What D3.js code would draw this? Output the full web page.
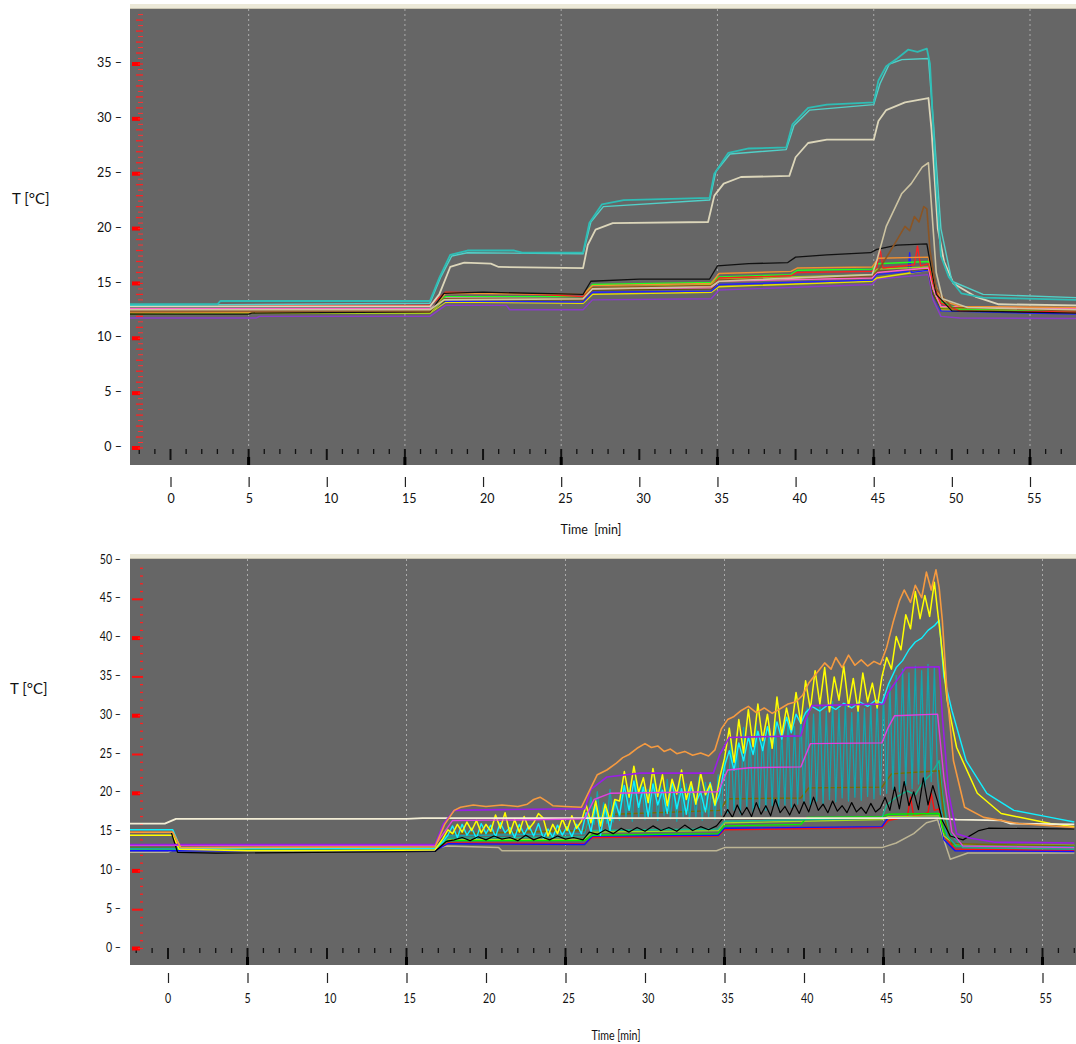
<!DOCTYPE html>
<html>
<head>
<meta charset="utf-8">
<script src="https://cdn.jsdelivr.net/npm/d3@7"></script>
<style>
  body { margin: 0; background: #fff; }
  text { font-family: Lato, "Open Sans", sans-serif; fill: #111; }
</style>
</head>
<body>
<svg id="fig" width="1076" height="1044"></svg>
<script>
// ---- tick values ----
const minuteTicks = [0, 5, 10, 15, 20, 25, 30, 35, 40, 45, 50, 55];
const topTempTicks = [0, 5, 10, 15, 20, 25, 30, 35];
const botTempTicks = [0, 5, 10, 15, 20, 25, 30, 35, 40, 45, 50];

// ---- top chart series: [time min, T degC] ----
const topCyanA = [[-2.6,13.1],[3,13.1],[3.2,13.4],[16.6,13.4],[17.2,15.5],[17.9,17.6],[19,18.0],[22,18.0],[22.5,17.8],[26.4,17.8],[26.8,20.5],[27.6,22.2],[29,22.6],[34.5,22.8],[34.8,25],[35.7,26.9],[37,27.3],[39.4,27.4],[39.8,29.5],[40.8,31.0],[42,31.3],[45.0,31.5],[45.3,33.5],[45.8,34.8],[46.5,35.5],[47.2,36.3],[47.8,36.1],[48.4,36.4],[48.6,35],[49.0,24],[49.3,17.5],[49.8,15.6],[50.6,14.1],[52,13.7],[58,13.5]];
const topCyanB = [[-2.6,13.0],[16.6,13.2],[17.3,15.6],[18.0,17.5],[19,17.8],[26.4,17.7],[26.9,20.6],[27.7,22.0],[34.5,22.6],[34.9,25.2],[35.8,26.8],[39.4,27.2],[39.9,29.4],[40.9,30.8],[45.0,31.3],[45.4,33.2],[46.0,35.0],[46.8,35.4],[48.5,35.5],[48.8,30],[49.3,20],[50,15.2],[52,14.0],[58,13.7]];
const topBeige = [[-2.6,12.9],[16.6,12.9],[17.2,14],[17.9,16.5],[18.8,16.9],[20.5,16.8],[21,16.5],[26.4,16.4],[26.7,18.5],[27.2,19.9],[28.3,20.5],[34.4,20.6],[34.8,23],[35.4,24.1],[36.5,24.7],[39.6,24.8],[40,26.5],[40.8,27.8],[42,28.1],[45.0,28.1],[45.3,29.8],[45.8,30.8],[47,31.5],[48.5,31.9],[48.7,29],[49.1,20],[49.5,17],[50.1,15],[51.5,13.8],[53,13.1],[58,13.0]];
const topTan = [[-2.6,12.6],[16.6,12.6],[17.5,13.5],[26.4,13.6],[27,14.5],[34.6,14.7],[35.1,15.2],[44.9,15.8],[45.2,17.1],[45.8,20.2],[46.8,23.2],[47.4,24.1],[48.1,25.6],[48.5,26.0],[48.7,22],[49.0,16],[49.4,13.6],[51,12.8],[58,12.6]];
const topBrown = [[-2.6,12.5],[16.6,12.5],[17.5,13.6],[26.4,13.6],[27,14.6],[34.6,14.8],[35.1,15.3],[44.9,15.7],[45.3,16.2],[46,17.8],[46.5,19],[47,20.2],[47.3,19.8],[47.6,21.1],[47.9,20.6],[48.2,22],[48.4,21.8],[48.6,18],[49,14.5],[50,12.8],[58,12.5]];
const topBlack = [[-2.6,12.2],[5,12.2],[5.2,12.3],[16.6,12.4],[17.5,14.1],[20,14.2],[26.4,14.0],[26.9,15.2],[30,15.4],[34.5,15.4],[35,16.6],[37,16.8],[39.5,16.9],[40,17.4],[42,17.6],[44.8,17.8],[45.2,18.1],[46.5,18.5],[48.4,18.6],[48.6,17],[49,14],[50,12.5],[58,12.3]];
const topOrange = [[-2.6,12.4],[16.6,12.4],[17.6,14.1],[26.4,14.0],[27.0,14.8],[34.6,15.0],[35.1,15.9],[39.7,16.1],[40.1,16.4],[44.9,16.5],[45.3,17.3],[48.5,17.4],[48.8,15.5],[49.3,13.5],[50.5,12.9],[58,12.8]];
const topRed = [[-2.6,13.0],[16.6,13.0],[17.6,14.2],[22,14.1],[26.4,13.8],[27.0,14.6],[34.6,14.7],[35.1,15.5],[39.7,15.7],[40.1,16.0],[44.9,16.1],[45.2,16.5],[45.4,18.2],[45.6,16.4],[47.6,16.7],[47.8,18.4],[48.0,16.6],[48.5,16.8],[48.8,15],[49.3,13.2],[50.5,12.5],[58,12.4]];
const topGreen = [[-2.6,12.6],[16.6,12.6],[17.6,13.8],[26.4,13.8],[27.0,14.9],[34.6,15.1],[35.1,15.6],[39.7,15.8],[40.1,16.2],[44.9,16.3],[45.2,16.8],[48.5,17.0],[48.8,15],[49.3,13.3],[50.5,12.6],[58,12.5]];
const topLime = [[-2.6,12.2],[5,12.3],[16.6,12.3],[17.6,13.6],[26.4,13.6],[27.0,14.6],[34.6,14.9],[35.1,15.4],[44.9,15.8],[45.2,16.3],[48.5,16.5],[48.8,14.5],[49.3,12.8],[58,12.4]];
const topYellow = [[-2.6,12.3],[16.6,12.3],[17.6,13.3],[26.4,13.2],[27.0,14.0],[34.6,14.2],[35.1,14.7],[44.9,15.2],[45.2,15.5],[48.5,16.2],[48.8,14.5],[49.3,12.6],[58,12.3]];
const topBlue = [[-2.6,12.4],[16.6,12.4],[17.6,13.4],[26.4,13.3],[27.0,14.2],[34.6,14.3],[35.1,14.9],[44.9,15.3],[45.2,15.8],[47.2,16.1],[47.3,17.8],[47.4,16.0],[48.5,16.2],[48.8,14],[49.3,12.5],[58,12.2]];
const topPink = [[-2.6,12.7],[16.6,12.7],[17.6,13.7],[26.4,13.6],[27.0,14.5],[34.6,14.6],[35.1,15.2],[44.9,15.5],[45.2,16.0],[48.5,16.4],[48.8,14.5],[49.3,12.9],[58,12.7]];
const topPurple = [[-2.6,11.85],[5.5,11.85],[5.7,12.0],[16.6,12.0],[17.6,13.0],[21.5,13.0],[21.7,12.6],[26.4,12.6],[27.0,13.5],[34.6,13.6],[35.1,14.4],[44.9,14.9],[45.2,15.4],[48.5,15.8],[48.8,13.5],[49.3,12.0],[50.5,11.85],[58,11.8]];
const topOlive = [[-2.6,12.3],[16.6,12.4],[17.6,13.5],[26.4,13.5],[27.0,14.4],[34.6,14.5],[35.1,15.2],[44.9,15.6],[45.2,16.1],[48.5,16.3],[48.8,14],[49.3,12.7],[58,12.5]];

// ---- bottom chart series ----
const botCream = [[-2.4,16.1],[-0.2,16.1],[0.5,16.7],[15,16.7],[16,16.8],[48.4,16.8],[49.6,16.6],[52.4,16.5],[53,16.1],[57,16.0]];
const botGrayBeige = [[-2.4,12.4],[0,12.4],[0.5,12.9],[16.8,12.9],[17.5,13.2],[20.8,13.0],[21,12.6],[34.5,12.6],[35,13],[44.9,13],[45.8,13.6],[46.9,14.8],[47.7,16.2],[48.4,16.6],[48.8,14],[49.2,11.5],[49.6,11.8],[50.3,12.3],[57,12.3]];
const botTeal = [[-2.4,12.9],[16.8,13.0],[17.5,14.5],[26.2,14.8],[26.4,16.2],[26.6,19.5],[26.8,16.0],[27.0,20.2],[27.2,16.4],[27.4,18.8],[27.6,16.1],[27.8,20.5],[28.0,16.3],[28.2,19.0],[28.4,16.5],[28.6,21.5],[28.8,16.8],[29.0,20.8],[29.2,16.4],[29.4,22.0],[29.6,17.0],[29.8,21.2],[30.0,16.6],[30.2,20.5],[30.4,16.9],[30.6,22.2],[30.8,16.5],[31.0,21.0],[31.2,17.1],[31.4,21.8],[31.6,16.7],[31.8,20.6],[32.0,16.4],[32.2,22.0],[32.4,17.0],[32.6,21.2],[32.8,16.6],[33.0,20.8],[33.2,16.9],[33.4,22.1],[33.6,16.5],[33.8,21.4],[34.0,17.0],[34.2,20.9],[34.4,16.6],[34.6,22.4],[34.8,17.2],[35.0,25.0],[35.2,17.5],[35.4,27.0],[35.6,17.8],[35.8,26.2],[36.0,17.4],[36.2,28.5],[36.4,18.0],[36.6,27.2],[36.8,17.6],[37.0,29.0],[37.2,18.2],[37.4,27.8],[37.6,17.8],[37.8,28.8],[38.0,18.4],[38.2,29.5],[38.4,18.0],[38.6,28.0],[38.8,18.5],[39.0,29.8],[39.2,18.2],[39.4,28.6],[39.6,18.6],[39.8,30.0],[40.0,18.8],[40.2,31.0],[40.4,18.5],[40.6,30.2],[40.8,19.0],[41.0,31.5],[41.2,18.7],[41.4,30.6],[41.6,19.2],[41.8,31.8],[42.0,18.9],[42.2,30.8],[42.4,19.4],[42.6,31.6],[42.8,19.0],[43.0,30.4],[43.2,19.5],[43.4,31.9],[43.6,19.1],[43.8,30.9],[44.0,19.6],[44.2,31.4],[44.4,19.3],[44.6,32.0],[44.8,19.8],[45.0,32.5],[45.2,20.0],[45.4,34.0],[45.6,20.5],[45.8,35.2],[46.0,20.2],[46.2,36.0],[46.4,21.0],[46.6,35.5],[46.8,20.6],[47.0,36.4],[47.2,21.2],[47.4,35.8],[47.6,20.8],[47.8,36.6],[48.0,21.5],[48.2,36.2],[48.4,22.0],[48.6,18],[49.0,14.5],[49.6,13.2],[57,13.1]];
const botCyan = [[-2.4,15.3],[0.3,15.3],[0.8,12.9],[16.8,12.9],[17.3,13.8],[17.6,14.6],[17.9,15.8],[18.2,14.3],[18.5,16.0],[18.8,14.6],[19.1,15.5],[19.4,14.2],[19.7,16.1],[20.0,14.8],[20.3,15.9],[20.6,14.4],[20.9,16.2],[21.2,14.9],[21.5,15.6],[21.8,14.3],[22.1,16.0],[22.4,14.7],[22.7,15.8],[23.0,14.5],[23.3,16.1],[23.6,14.2],[23.9,15.4],[24.2,14.3],[24.5,15.9],[24.8,14.6],[25.1,15.7],[25.4,14.4],[25.7,16.0],[26.0,14.8],[26.3,17.5],[26.6,15.0],[26.9,18.6],[27.2,14.6],[27.5,18.2],[27.8,15.2],[28.1,19.0],[28.4,17.2],[28.7,21.0],[29.0,17.8],[29.3,21.6],[29.6,18.2],[29.9,20.8],[30.2,17.0],[30.5,21.2],[30.8,18.5],[31.1,20.4],[31.4,17.4],[31.7,21.5],[32.0,18.0],[32.3,20.6],[32.6,17.3],[32.9,21.0],[33.2,18.8],[33.5,20.2],[33.8,17.6],[34.1,21.4],[34.4,18.4],[34.7,20.0],[35.0,23.5],[35.3,25.5],[35.6,23.0],[35.9,26.5],[36.2,24.2],[36.5,27.2],[36.8,25.0],[37.1,28.0],[37.4,25.5],[37.7,28.6],[38.0,26.2],[38.3,29.2],[38.6,27.0],[38.9,29.8],[39.2,27.8],[39.5,30.2],[39.8,29.0],[40.1,30.4],[40.5,31.2],[41.0,30.6],[41.5,31.4],[42.0,30.8],[42.5,31.6],[43.0,31.0],[43.5,31.8],[44.0,31.2],[44.5,32.0],[44.9,31.6],[45.3,34.0],[45.8,36.2],[46.2,37.1],[46.6,38.5],[47.0,39.5],[47.4,40.0],[47.8,41.0],[48.2,41.6],[48.5,42.3],[48.8,35.0],[49.3,30.7],[50.2,24.2],[51.5,20.0],[53.2,17.8],[55.5,16.9],[57,16.3]];
const botYellow = [[-2.4,14.6],[0.3,14.6],[0.7,12.8],[5,12.6],[10,12.6],[16.8,12.7],[17.3,14.2],[17.6,15.3],[17.9,14.8],[18.2,16.0],[18.5,15.0],[18.8,16.3],[19.1,15.2],[19.4,16.5],[19.7,14.9],[20.0,16.0],[20.3,15.1],[20.6,17.2],[20.9,15.5],[21.2,17.5],[21.5,14.8],[21.8,16.6],[22.1,15.0],[22.4,17.0],[22.7,15.4],[23.0,16.2],[23.3,17.4],[23.6,16.8],[23.9,14.5],[24.2,16.0],[24.5,14.8],[24.8,16.7],[25.1,15.2],[25.4,17.1],[25.7,15.5],[26.0,16.4],[26.3,18.5],[26.6,16.2],[26.9,19.0],[27.2,15.8],[27.5,18.6],[27.8,16.5],[28.1,19.2],[28.4,19.0],[28.7,22.8],[29.0,19.5],[29.3,23.5],[29.6,20.1],[29.9,22.0],[30.2,18.8],[30.5,23.2],[30.8,19.6],[31.1,22.4],[31.4,18.4],[31.7,21.8],[32.0,19.9],[32.3,23.0],[32.6,19.2],[32.9,21.5],[33.2,18.6],[33.5,22.6],[33.8,19.8],[34.1,21.2],[34.4,18.5],[34.7,22.0],[35.0,24.5],[35.3,28.4],[35.6,24.0],[35.9,29.5],[36.2,25.2],[36.5,30.8],[36.8,26.0],[37.1,31.5],[37.4,26.8],[37.7,30.2],[38.0,25.8],[38.3,32.4],[38.6,27.5],[38.9,31.0],[39.2,28.2],[39.5,33.0],[39.8,29.0],[40.1,34.5],[40.4,30.8],[40.7,35.8],[41.0,31.5],[41.3,36.2],[41.6,30.5],[41.9,35.0],[42.2,32.0],[42.5,36.4],[42.8,31.2],[43.1,34.8],[43.4,30.6],[43.7,35.5],[44.0,31.8],[44.3,34.2],[44.6,31.0],[44.9,35.0],[45.2,37.5],[45.5,36.0],[45.8,40.2],[46.1,38.5],[46.4,43.0],[46.7,41.2],[47.0,46.0],[47.3,42.5],[47.6,45.5],[47.9,42.8],[48.2,47.2],[48.4,43.5],[48.6,40],[49.0,32],[49.6,25.9],[50.9,20.0],[52.4,17.4],[55.5,16.1],[57,15.7]];
const botOrange = [[-2.4,15.0],[0.3,15.0],[0.8,13.0],[16.8,13.1],[17.4,16.0],[18.0,17.8],[18.4,18.2],[19.2,18.5],[20.0,18.3],[21.0,18.5],[22.0,18.3],[22.6,18.6],[23.0,19.2],[23.4,19.5],[23.8,19.0],[24.2,18.4],[25.0,18.3],[26.0,18.2],[26.5,20.3],[27.0,22.4],[27.6,23.0],[28.2,23.9],[28.6,24.6],[29.0,25.0],[29.5,25.8],[30.0,26.4],[30.4,25.9],[30.8,26.1],[31.2,25.4],[31.6,25.7],[32.0,25.1],[32.5,25.4],[33.0,24.9],[33.5,25.2],[34.0,24.8],[34.4,25.6],[34.8,28.3],[35.2,29.5],[35.6,29.9],[36.0,30.6],[36.5,31.2],[37.0,30.4],[37.5,31.0],[38.0,30.3],[38.5,30.9],[39.0,31.5],[39.5,31.8],[39.9,32.6],[40.3,34.2],[40.8,35.5],[41.3,36.8],[41.7,36.0],[42.0,37.5],[42.4,36.2],[42.8,37.8],[43.2,36.5],[43.6,37.2],[44.0,36.4],[44.4,37.0],[44.8,36.6],[45.2,38.8],[45.6,42.0],[46.0,44.8],[46.3,46.2],[46.7,44.6],[47.0,46.8],[47.4,45.2],[47.7,48.5],[48.0,46.2],[48.3,48.8],[48.5,46.5],[48.7,42.3],[49.0,32.8],[49.4,24.2],[50.1,18.2],[51.3,16.9],[53.5,16.1],[57,15.6]];
const botPurple = [[-2.4,13.4],[16.8,13.4],[17.3,16],[18,17.8],[21,17.9],[26.2,18.0],[26.6,20.5],[27.6,22.1],[29.7,22.6],[34.3,22.6],[34.7,25],[35.3,27.2],[39.8,27.4],[40.1,29.5],[40.5,31.3],[45,31.5],[45.3,33],[46.4,36.2],[48.5,36.3],[48.7,30],[49.1,20],[49.6,14.8],[50.5,14.2],[52,13.7],[57,13.6]];
const botPink = [[-2.4,13.3],[16.8,13.3],[17.9,16.5],[23,16.6],[26.2,16.7],[26.8,19.2],[27.8,20.0],[34.6,20.2],[35.2,23.0],[36.6,23.3],[39.8,23.4],[40.4,26.4],[44.9,26.5],[45.3,28.5],[45.7,30],[48.4,30.2],[48.8,22],[49.3,15],[50,13.2],[57,13.0]];
const botOlive = [[-2.4,13],[16.8,13],[17.5,14.8],[26.2,15.2],[26.8,17.2],[34.7,17.8],[35.2,19.3],[39.8,19.4],[40.3,20.7],[44.9,20.8],[45.5,22.5],[48.5,22.9],[48.8,17],[49.3,13.5],[57,13.2]];
const botSeaGreen = [[-2.4,12.8],[16.8,12.8],[17.6,14.2],[26.2,14.4],[26.7,15.2],[34.6,15.4],[35.0,16.4],[44.9,16.8],[45.2,18.5],[45.8,19.5],[46.5,20.3],[47,19.8],[47.5,21.5],[48,22.5],[48.5,24.2],[48.7,20],[49.1,15],[50,13],[57,12.8]];
const botBlack = [[-2.4,15.0],[0.2,15.0],[0.6,12.4],[3,12.3],[16.8,12.5],[17.5,13.8],[18,14.0],[18.5,14.3],[19,13.9],[19.5,14.4],[20,14.0],[20.5,14.5],[21,14.1],[21.5,14.3],[22,13.9],[22.5,14.6],[23,14.0],[23.5,14.4],[24,14.0],[24.5,14.5],[25,14.1],[25.5,14.3],[26.1,14.0],[26.5,15.0],[27,14.7],[27.5,15.3],[28,14.8],[28.5,15.5],[29,15.0],[29.5,15.6],[30,15.1],[30.5,15.8],[31,15.2],[31.5,15.6],[32,15.1],[32.5,15.9],[33,15.2],[33.5,15.7],[34,15.3],[34.5,15.8],[34.9,16.8],[35.2,17.9],[35.5,16.9],[35.8,18.5],[36.1,17.2],[36.4,18.2],[36.7,17.0],[37.0,18.8],[37.3,17.3],[37.6,18.4],[37.9,17.1],[38.2,19.2],[38.5,17.5],[38.8,18.3],[39.1,17.2],[39.4,18.6],[39.7,17.4],[40.0,18.9],[40.3,17.6],[40.6,19.5],[40.9,17.8],[41.2,18.6],[41.5,17.5],[41.8,19.0],[42.1,17.7],[42.4,18.4],[42.7,17.5],[43.0,18.8],[43.3,17.6],[43.6,18.2],[43.9,17.4],[44.2,18.7],[44.5,17.6],[44.8,18.1],[45.1,19.5],[45.4,17.8],[45.7,20.8],[46.0,18.0],[46.3,21.5],[46.6,18.4],[46.9,20.2],[47.2,17.9],[47.5,22.0],[47.8,18.5],[48.1,21.0],[48.4,19.0],[48.7,16.5],[49.2,14.5],[50,14.0],[51,15.2],[51.6,15.5],[57,15.4]];
const botGreen = [[-2.4,12.8],[16.8,12.9],[17.6,13.9],[26.2,13.9],[26.7,14.6],[34.6,14.8],[35,15.8],[39.8,16.0],[40.2,16.9],[44.9,17.0],[45.3,17.3],[48.5,17.4],[48.8,15],[49.5,13.2],[57,13.0]];
const botLime = [[-2.4,12.9],[16.8,12.9],[17.6,14.0],[26.2,14.1],[26.7,15.0],[34.6,15.2],[35.0,16.2],[44.9,16.6],[45.3,17.0],[48.5,17.1],[48.8,14.5],[49.5,13.4],[57,13.3]];
const botBlue = [[-2.4,12.6],[16.8,12.6],[17.6,13.5],[26.2,13.4],[26.7,14.5],[34.6,14.6],[35,15.5],[44.9,15.7],[45.3,16.9],[48.5,17],[48.8,14],[49.5,12.6],[57,12.5]];
const botRed = [[-2.4,12.7],[16.8,12.7],[17.6,13.6],[26.2,13.5],[26.7,14.3],[34.6,14.5],[35,15.3],[44.9,15.6],[45.3,16.5],[46.5,17],[46.7,19.5],[46.9,17],[47.8,17.5],[48,20],[48.2,17.8],[48.5,18],[48.8,14.5],[49.5,12.8],[57,12.6]];

// ---- drawing order and colours ----
const topSeries = [
  { d: topPurple, c: "#8a3cc8", w: 1.4 },
  { d: topYellow, c: "#e8e000", w: 1.4 },
  { d: topBlue, c: "#2020ff", w: 1.4 },
  { d: topOlive, c: "#5e5200", w: 1.4 },
  { d: topLime, c: "#9ad21e", w: 1.4 },
  { d: topPink, c: "#ff60c8", w: 1.4 },
  { d: topGreen, c: "#20ff20", w: 1.4 },
  { d: topRed, c: "#ff2020", w: 1.4 },
  { d: topOrange, c: "#f09030", w: 1.4 },
  { d: topBlack, c: "#111111", w: 1.3 },
  { d: topBrown, c: "#8b5524", w: 1.6 },
  { d: topTan, c: "#cdc4a2", w: 1.6 },
  { d: topBeige, c: "#dcd6ba", w: 1.8 },
  { d: topCyanB, c: "#52d0c8", w: 1.4 },
  { d: topCyanA, c: "#2fbdb5", w: 1.8 }
];
const botSeries = [
  { d: botGrayBeige, c: "#bdb594", w: 1.5 },
  { d: botRed, c: "#ff1010", w: 1.4 },
  { d: botBlue, c: "#1010ff", w: 1.4 },
  { d: botLime, c: "#a0e020", w: 1.3 },
  { d: botGreen, c: "#00f000", w: 1.4 },
  { d: botSeaGreen, c: "#18b890", w: 1.4 },
  { d: botOlive, c: "#7a6a00", w: 1.4 },
  { d: botTeal, c: "#12a6ae", w: 1.3 },
  { d: botCyan, c: "#10f0ff", w: 1.4 },
  { d: botYellow, c: "#ffff00", w: 1.5 },
  { d: botBlack, c: "#000000", w: 1.2 },
  { d: botCream, c: "#f3eed6", w: 1.8 },
  { d: botPink, c: "#e040e0", w: 1.4 },
  { d: botPurple, c: "#9a1ee6", w: 1.6 },
  { d: botOrange, c: "#f59a40", w: 1.6 }
];

const svg = d3.select("#fig");

function drawPanel(o) {
  const x = d3.scaleLinear().domain([0, 55]).range(o.xr);
  const y = d3.scaleLinear().domain(o.yd).range(o.yr);
  const g = svg.append("g");

  // window-style strip above plot
  g.append("rect").attr("x", o.left).attr("y", o.top - 5).attr("width", 1076 - o.left).attr("height", 5)
    .attr("fill", "#ece9d8");
  g.append("line").attr("x1", o.left).attr("x2", 1076).attr("y1", o.top - 0.5).attr("y2", o.top - 0.5)
    .attr("stroke", "#c9c5b2");

  g.append("rect").attr("x", o.left).attr("y", o.top).attr("width", 1076 - o.left).attr("height", o.bottom - o.top)
    .attr("fill", "#666666");

  const clipId = "clip" + o.id;
  svg.append("clipPath").attr("id", clipId).append("rect")
    .attr("x", o.left).attr("y", o.top).attr("width", 1076 - o.left).attr("height", o.bottom - o.top);

  // dotted vertical grid at 5, 15, 25 ...
  const gridT = d3.range(5, 60, 10);
  g.selectAll(".grid").data(gridT).join("line")
    .attr("x1", d => x(d)).attr("x2", d => x(d)).attr("y1", o.top).attr("y2", o.bottom)
    .attr("stroke", "#ababab").attr("stroke-width", 1).attr("stroke-dasharray", "2,3");

  // black minute ticks along the bottom
  const tRow = d3.range(-2, 59).filter(t => x(t) > o.left + 2 && x(t) < 1076);
  g.selectAll(".mt").data(tRow).join("line")
    .attr("x1", d => x(d)).attr("x2", d => x(d))
    .attr("y1", o.tickY)
    .attr("y2", d => d % 10 === 5 ? o.bottom : (d % 5 === 0 ? o.tickY + 11 : o.tickY + 5))
    .attr("stroke", "#111").attr("stroke-width", d => d % 5 === 0 ? 2 : 1.3);
  g.selectAll(".mtb").data(tRow.filter(d => d % 10 === 5)).join("rect")
    .attr("x", d => x(d) - 1.5).attr("y", o.bottom - 8).attr("width", 3).attr("height", 8)
    .attr("fill", "#000");

  // red temperature ticks along the left
  const redVals = d3.range(o.yd[0] < 0 ? 0 : 0, o.redMax + 0.01, o.redStep);
  redVals.forEach(v => {
    const yy = y(v);
    if (yy < o.top + 2 || yy > o.bottom) return;
    if (v % 10 === 0 || (o.id === "t" && v % 5 === 0)) {
      g.append("rect").attr("x", o.left + 2).attr("y", yy - 2).attr("width", 8).attr("height", 4).attr("fill", "#ff0000");
      g.append("line").attr("x1", o.left + 8).attr("x2", o.left + 13).attr("y1", yy).attr("y2", yy)
        .attr("stroke", "#ff2020").attr("stroke-width", 1.2);
    } else if (v % 5 === 0) {
      g.append("line").attr("x1", o.left + 2).attr("x2", o.left + 13).attr("y1", yy).attr("y2", yy)
        .attr("stroke", "#ff1010").attr("stroke-width", 2);
    } else if (v % 1 === 0) {
      g.append("line").attr("x1", o.left + (o.id === "t" ? 6 : 10)).attr("x2", o.left + 13).attr("y1", yy).attr("y2", yy)
        .attr("stroke", "#ff2020").attr("stroke-width", 1.3);
    } else {
      g.append("line").attr("x1", o.left + 8).attr("x2", o.left + 13).attr("y1", yy).attr("y2", yy)
        .attr("stroke", "#ff3030").attr("stroke-width", 1);
    }
  });

  // series
  const line = d3.line().x(d => x(d[0])).y(d => y(d[1]));
  const lg = g.append("g").attr("clip-path", `url(#${clipId})`);
  lg.selectAll("path").data(o.series).join("path")
    .attr("d", s => line(s.d))
    .attr("fill", "none")
    .attr("stroke", s => s.c)
    .attr("stroke-width", s => s.w)
    .attr("stroke-linejoin", "round");

  // y labels "35 –"
  g.selectAll(".yl").data(o.yTicks).join("text")
    .attr("transform", d => `translate(${o.yLabelX},${y(d)}) scale(${o.sx},1)`)
    .attr("text-anchor", "end").attr("dominant-baseline", "middle")
    .attr("font-size", 12.5)
    .text(d => `${d} \u2013`);

  // x labels below plot, with small bar marks
  g.selectAll(".xm").data(minuteTicks).join("line")
    .attr("x1", d => x(d) + 0.5).attr("x2", d => x(d) + 0.5)
    .attr("y1", o.markY).attr("y2", o.markY + 10)
    .attr("stroke", "#222").attr("stroke-width", 1.2);
  g.selectAll(".xl").data(minuteTicks).join("text")
    .attr("transform", d => `translate(${x(d) - 3},${o.numY}) scale(${o.sx},1)`)
    .attr("text-anchor", "start").attr("dominant-baseline", "middle")
    .attr("font-size", 12.5)
    .text(d => d);

  g.append("text")
    .attr("transform", `translate(${o.titleX},${o.titleY}) scale(${o.sx},1)`)
    .attr("text-anchor", "middle").attr("dominant-baseline", "middle")
    .attr("font-size", 12.5).style("white-space", "pre")
    .text(o.xTitle);

  g.append("text")
    .attr("x", o.yTitleX).attr("y", o.yTitleY)
    .attr("dominant-baseline", "middle")
    .attr("font-size", 15)
    .text("T [°C]");
}

drawPanel({
  id: "t", left: 130, top: 9, bottom: 465,
  xr: [170.5, 1030], yd: [0, 35], yr: [448, 64],
  tickY: 449, redMax: 40, redStep: 0.5,
  series: topSeries, yTicks: topTempTicks, yLabelX: 122, sx: 1,
  markY: 477, numY: 500, titleX: 591, titleY: 531, xTitle: "Time  [min]",
  yTitleX: 12, yTitleY: 200
});

drawPanel({
  id: "b", left: 130, top: 559, bottom: 965,
  xr: [168, 1042.5], yd: [0, 50], yr: [948.5, 560.5],
  tickY: 948, redMax: 50, redStep: 1,
  series: botSeries, yTicks: botTempTicks, yLabelX: 121, sx: 0.85,
  markY: 973, numY: 1000, titleX: 616, titleY: 1037, xTitle: "Time [min]",
  yTitleX: 10, yTitleY: 690
});
</script>
</body>
</html>
